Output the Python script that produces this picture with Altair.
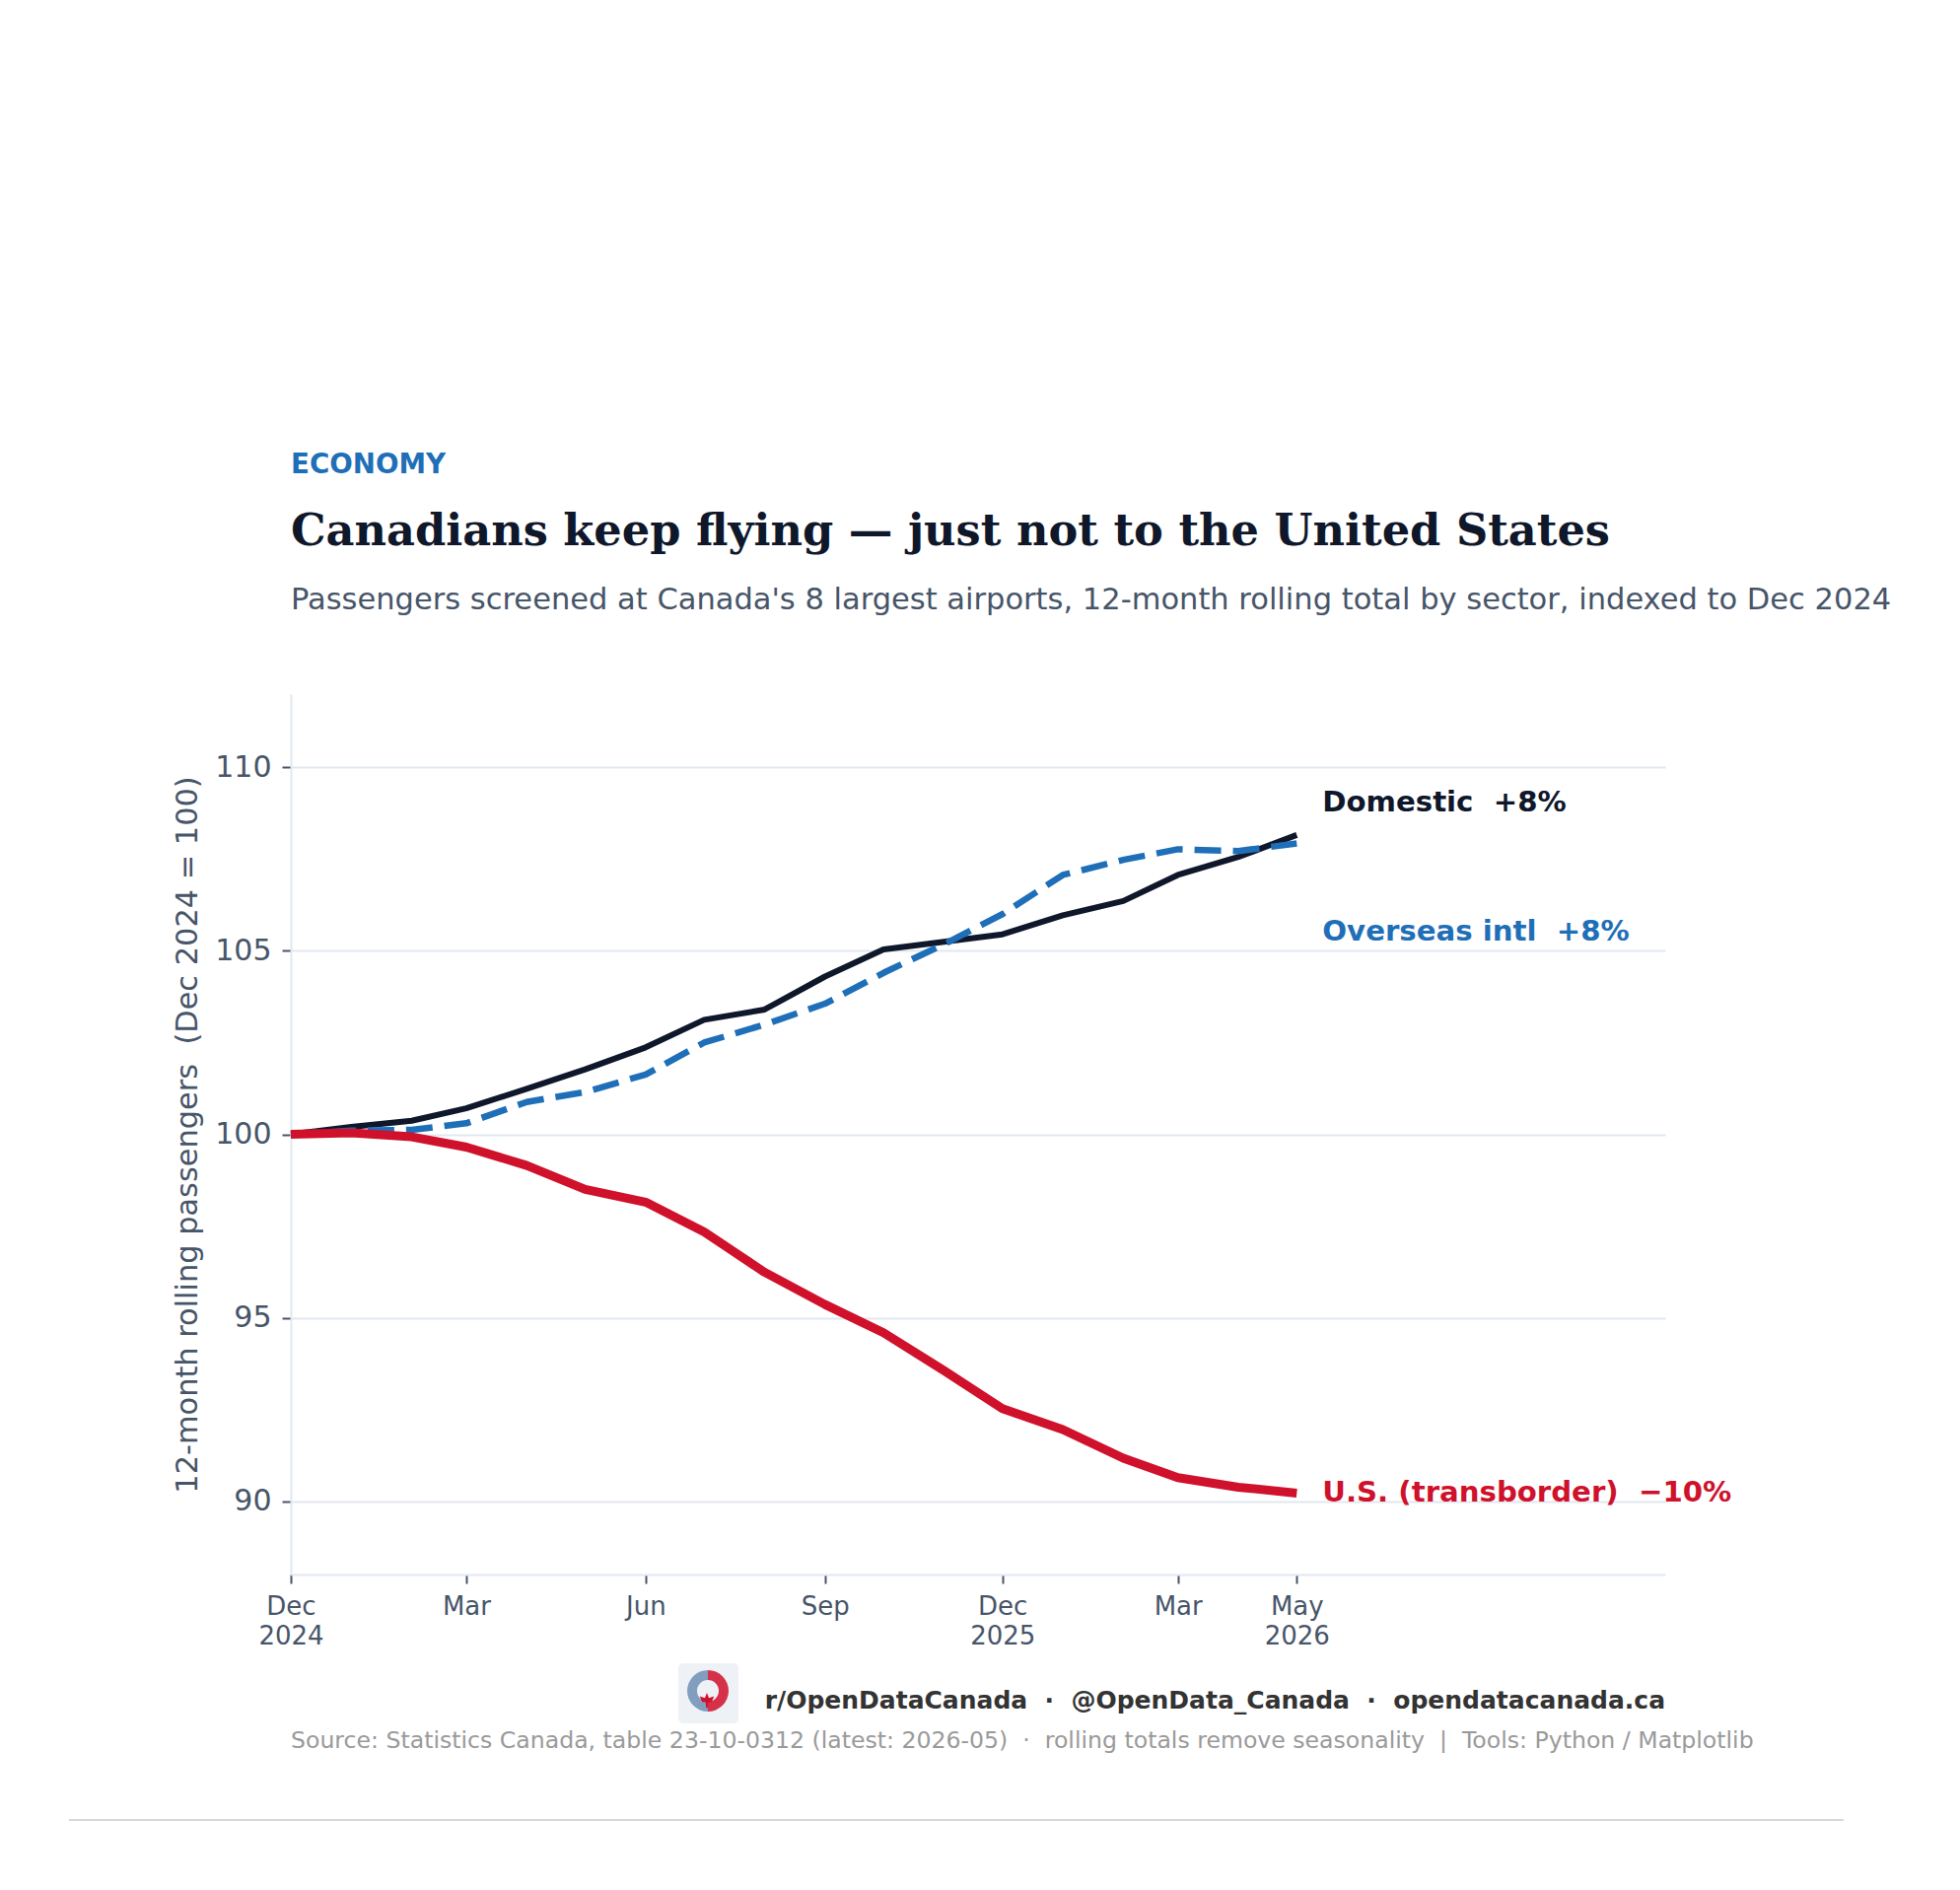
import altair as alt
import pandas as pd

# Monthly 12-month rolling totals, indexed to Dec 2024 = 100
months = ["2024-12", "2025-01", "2025-02", "2025-03", "2025-04", "2025-05",
          "2025-06", "2025-07", "2025-08", "2025-09", "2025-10", "2025-11",
          "2025-12", "2026-01", "2026-02", "2026-03", "2026-04", "2026-05"]
domestic = [100.0, 100.2, 100.37, 100.71, 101.24, 101.77, 102.37, 103.12, 103.40,
            104.30, 105.04, 105.25, 105.45, 105.97, 106.36, 107.07, 107.56, 108.16]
overseas = [100.0, 100.1, 100.12, 100.30, 100.88, 101.15, 101.63, 102.50, 102.99,
            103.56, 104.40, 105.18, 106.00, 107.07, 107.48, 107.77, 107.72, 107.93]
transborder = [100.0, 100.04, 99.93, 99.65, 99.15, 98.50, 98.15, 97.34, 96.24,
               95.36, 94.59, 93.56, 92.52, 91.95, 91.17, 90.64, 90.38, 90.22]

series_names = ["Domestic", "Overseas intl", "U.S. (transborder)"]
series_values = [domestic, overseas, transborder]
series_colors = ["#0f172a", "#1f6fb8", "#d0112b"]
series_widths = [6, 6.5, 9]
series_dashes = [None, [27, 12], None]
label_dy = [-24, 99, 9]

y_ticks = [90, 95, 100, 105, 110]
x_ticks = [(2024, 12), (2025, 3), (2025, 6), (2025, 9), (2025, 12), (2026, 3), (2026, 5)]

SLATE = "#475569"
GRID = "#e2e8f0"
W, H = 1394, 893
SP2 = "\u00a0\u00a0"  # two spaces that SVG text will not collapse

dates = pd.to_datetime([m + "-01" for m in months])

x_scale = alt.Scale(domain=[alt.DateTime(year=2024, month=12, date=1),
                            alt.DateTime(year=2026, month=11, date=6)], nice=False)
y_scale = alt.Scale(domain=[88, 112], nice=False, zero=False)

# second label line carries the year on Dec ticks and on the final tick
label_expr = ("[timeFormat(datum.value, '%b'), "
              "(month(datum.value) == 11 || (year(datum.value) == 2026 && month(datum.value) == 4))"
              " ? timeFormat(datum.value, '%Y') : '']")

x_axis = alt.Axis(
    values=[alt.DateTime(year=y, month=m, date=1) for y, m in x_ticks],
    labelExpr=label_expr, title=None, grid=False,
    domainColor=GRID, domainWidth=2, tickColor=SLATE, tickWidth=2, tickSize=9,
    labelFont="DejaVu Sans", labelFontSize=26, labelColor=SLATE, labelPadding=10,
    labelLineHeight=30, labelAlign="center", labelBaseline="top",
    labelOverlap=False, labelFlush=False, labelBound=False,
)
y_axis = alt.Axis(
    values=y_ticks, title=f"12-month rolling passengers{SP2}(Dec 2024 = 100)",
    grid=True, gridColor=GRID, gridWidth=2,
    domainColor=GRID, domainWidth=2, tickColor=SLATE, tickWidth=2, tickSize=9,
    labelFont="DejaVu Sans", labelFontSize=30, labelColor=SLATE, labelPadding=11,
    titleFont="DejaVu Sans", titleFontSize=30.4, titleFontWeight="normal", titleColor=SLATE,
    titleX=-105, titleY=H / 2, titleAlign="center", titleBaseline="middle", titleAngle=270,
)

layers = []
for name, vals, color, width, dash in zip(series_names, series_values, series_colors,
                                          series_widths, series_dashes):
    df = pd.DataFrame({"date": dates, "value": vals, "series": name})
    mark_kw = dict(color=color, strokeWidth=width, strokeCap="butt", strokeJoin="round")
    if dash:
        mark_kw["strokeDash"] = dash
    layers.append(
        alt.Chart(df).mark_line(**mark_kw).encode(
            x=alt.X("date:T", scale=x_scale, axis=x_axis),
            y=alt.Y("value:Q", scale=y_scale, axis=y_axis),
        )
    )

# end-of-line labels with the change since Dec 2024
for name, vals, color, dy in zip(series_names, series_values, series_colors, label_dy):
    change = round(vals[-1] - 100)
    pct = f"+{change}%" if change >= 0 else f"\u2212{abs(change)}%"
    lab = pd.DataFrame({"date": [dates[-1]], "value": [vals[-1]],
                        "label": [f"{name}{SP2}{pct}"]})
    layers.append(
        alt.Chart(lab).mark_text(
            align="left", baseline="alphabetic", dx=26, dy=dy,
            font="DejaVu Sans", fontSize=29.2, fontWeight="bold", color=color,
        ).encode(
            x=alt.X("date:T", scale=x_scale, axis=x_axis),
            y=alt.Y("value:Q", scale=y_scale, axis=y_axis),
            text="label:N",
        )
    )

one = alt.Data(values=[{}])


def text_at(x, y, text, **kw):
    return alt.Chart(one).mark_text(text=text, **kw).encode(x=alt.value(x), y=alt.value(y))


# header block
layers.append(text_at(0, -224, "ECONOMY", align="left", baseline="alphabetic",
                      font="DejaVu Sans", fontSize=27.7, fontWeight="bold", color="#1f6fb8"))
layers.append(text_at(0, -151, "Canadians keep flying \u2014 just not to the United States",
                      align="left", baseline="alphabetic", font="DejaVu Serif",
                      fontSize=44.7, fontWeight="bold", color="#0f172a"))
layers.append(text_at(0, -86, "Passengers screened at Canada's 8 largest airports, "
                      "12-month rolling total by sector, indexed to Dec 2024",
                      align="left", baseline="alphabetic", font="DejaVu Sans",
                      fontSize=30.5, color=SLATE))

# footer: badge, handles, source note, separator
layers.append(alt.Chart(one).mark_rect(fill="#eef2f7", cornerRadius=5).encode(
    x=alt.value(393), x2=alt.value(454), y=alt.value(983), y2=alt.value(1044)))
layers.append(alt.Chart(one).mark_arc(radius=21, radius2=11, theta=3.1416, theta2=6.2832,
                                      color="#6f8fb5", opacity=0.85).encode(
    x=alt.value(423), y=alt.value(1011)))
layers.append(alt.Chart(one).mark_arc(radius=21, radius2=11, theta=0, theta2=3.1416,
                                      color="#d0112b", opacity=0.85).encode(
    x=alt.value(423), y=alt.value(1011)))
layers.append(alt.Chart(one).mark_point(
    shape="M0,-1L0.25,-0.35L0.9,-0.55L0.6,0.15L0.15,0.2L0.1,0.9L-0.1,0.9L-0.15,0.2L-0.6,0.15L-0.9,-0.55L-0.25,-0.35Z",
    size=260, filled=True, color="#d0112b", opacity=1).encode(
    x=alt.value(422), y=alt.value(1021)))
layers.append(text_at(W, 1029, f"r/OpenDataCanada{SP2}\u00b7{SP2}@OpenData_Canada{SP2}\u00b7{SP2}opendatacanada.ca",
                      align="right", baseline="alphabetic", font="DejaVu Sans",
                      fontSize=25, fontWeight="bold", color="#333333"))
layers.append(text_at(0, 1069, f"Source: Statistics Canada, table 23-10-0312 (latest: 2026-05){SP2}\u00b7{SP2}"
                      f"rolling totals remove seasonality{SP2}|{SP2}Tools: Python / Matplotlib",
                      align="left", baseline="alphabetic", font="DejaVu Sans",
                      fontSize=23.6, color="#9a9a9a"))
layers.append(alt.Chart(one).mark_rule(color="#d9d9d9", strokeWidth=2).encode(
    x=alt.value(-225), x2=alt.value(1575), y=alt.value(1142)))

chart = alt.layer(*layers).properties(
    width=W, height=H,
    padding={"left": 295, "top": 704, "right": 299, "bottom": 320},
    autosize=alt.AutoSizeParams(type="none"),
    background="white",
).configure_view(stroke=None)

chart.save("out.html", embed_options={"renderer": "svg", "actions": False})
